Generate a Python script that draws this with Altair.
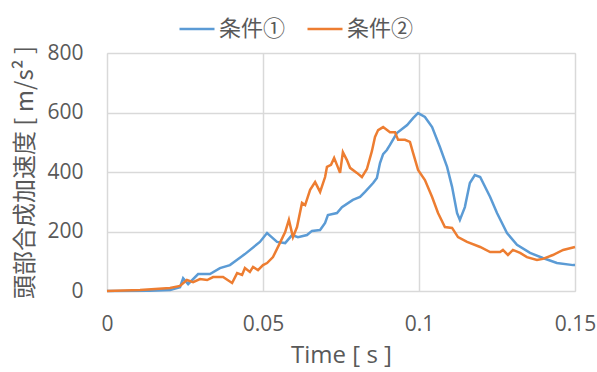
import altair as alt
import pandas as pd

series_names = ["条件①", "条件②"]
colors = ["#5B9BD5", "#ED7D31"]

t1 = [0, 0.0138, 0.0202, 0.0234, 0.0244, 0.026, 0.0292, 0.033, 0.0362, 0.0394,
      0.0442, 0.049, 0.0513, 0.0545, 0.0571, 0.0593, 0.0612, 0.0641, 0.0657,
      0.0683, 0.0699, 0.0708, 0.0737, 0.0753, 0.0788, 0.0811, 0.0827, 0.0853,
      0.0865, 0.0875, 0.0885, 0.0897, 0.0907, 0.0929, 0.0962, 0.0981, 0.0997,
      0.1019, 0.1042, 0.1067, 0.109, 0.1106, 0.1122, 0.1131, 0.1147, 0.1163,
      0.1179, 0.1196, 0.1228, 0.125, 0.1282, 0.1314, 0.1356, 0.1397, 0.1442,
      0.1494, 0.15]
v1 = [0, 1, 3, 13, 43, 23, 57, 57, 77, 87,
      124, 165, 195, 165, 161, 188, 181, 188, 202,
      205, 229, 255, 262, 282, 306, 316, 333, 363,
      380, 430, 460, 474, 491, 531, 558, 581, 598,
      585, 551, 484, 417, 350, 262, 239, 282, 363,
      390, 383, 316, 262, 195, 155, 128, 111, 94,
      87, 87]

t2 = [0, 0.0106, 0.0202, 0.0234, 0.0256, 0.0276, 0.0298, 0.0321, 0.034, 0.0372,
      0.0401, 0.0417, 0.0433, 0.0442, 0.0458, 0.0468, 0.0484, 0.05, 0.0513,
      0.0532, 0.0554, 0.0571, 0.0583, 0.0596, 0.0609, 0.0625, 0.0635, 0.0651,
      0.0667, 0.0683, 0.0699, 0.0705, 0.0718, 0.0728, 0.0737, 0.0747, 0.0756,
      0.0769, 0.0779, 0.0801, 0.0817, 0.0833, 0.0849, 0.0859, 0.0869, 0.0885,
      0.0907, 0.0923, 0.0933, 0.0955, 0.0971, 0.0981, 0.0997, 0.1019, 0.1042,
      0.1061, 0.1083, 0.1106, 0.1125, 0.1154, 0.1196, 0.1228, 0.126, 0.1269,
      0.1285, 0.1301, 0.1324, 0.1346, 0.1378, 0.1397, 0.1429, 0.1462, 0.15]
v2 = [0, 3, 10, 17, 37, 30, 40, 37, 47, 47,
      27, 60, 54, 77, 64, 81, 70, 87, 94,
      114, 161, 198, 239, 181, 215, 296, 289, 340,
      366, 333, 383, 417, 424, 447, 424, 397, 467,
      440, 414, 397, 383, 410, 470, 518, 541, 551,
      534, 534, 508, 508, 501, 464, 407, 373, 316,
      262, 215, 212, 181, 165, 148, 131, 131, 138,
      121, 138, 128, 114, 104, 108, 121, 138, 148]

x_ticks = [0, 0.05, 0.1, 0.15]
y_ticks = [0, 200, 400, 600, 800]

df = pd.concat([
    pd.DataFrame({"t": t1, "v": v1, "s": series_names[0], "o": range(len(t1))}),
    pd.DataFrame({"t": t2, "v": v2, "s": series_names[1], "o": range(len(t2))}),
])

txt = "#595959"
num_font = "Open Sans"
jp_font = "Noto Sans CJK JP"

chart = alt.Chart(df).mark_line(strokeWidth=2.5).encode(
    x=alt.X("t:Q", scale=alt.Scale(domain=[0, 0.15], nice=False),
            axis=alt.Axis(values=x_ticks, format=".2~f", title="Time [  s  ]",
                          labelFont=num_font, labelFontSize=21, labelColor=txt,
                          labelPadding=22, titleFont=num_font, titleFontSize=24,
                          titleColor=txt, titleFontWeight="normal", titlePadding=9,
                          domain=False, ticks=False, gridColor="#d9d9d9",
                          gridWidth=1.5, labelFlush=False)),
    y=alt.Y("v:Q", scale=alt.Scale(domain=[0, 800], nice=False),
            axis=alt.Axis(values=y_ticks, title="頭部合成加速度 [ m/s² ]",
                          labelFont=num_font, labelFontSize=21, labelColor=txt,
                          labelPadding=24, titleFont=jp_font, titleFontSize=24,
                          titleColor=txt, titleFontWeight="normal", titlePadding=9,
                          domain=False, ticks=False, gridColor="#d9d9d9",
                          gridWidth=1.5)),
    color=alt.Color("s:N", scale=alt.Scale(domain=series_names, range=colors),
                    legend=alt.Legend(title=None, orient="none", direction="horizontal",
                                      legendX=71, legendY=-43, symbolType="stroke",
                                      symbolSize=1225, symbolStrokeWidth=2.5,
                                      labelFont=jp_font, labelFontSize=22,
                                      labelColor=txt, labelOffset=3,
                                      columnPadding=16)),
    order="o:Q",
).properties(
    width=468, height=238,
    autosize=alt.AutoSizeParams(type="none"),
    padding={"left": 107, "top": 53, "right": 22, "bottom": 81},
).configure_view(
    stroke="#6b6b6b", strokeWidth=1.5
).configure(background="white")

chart.save("out.html", embed_options={"renderer": "svg", "actions": False})
